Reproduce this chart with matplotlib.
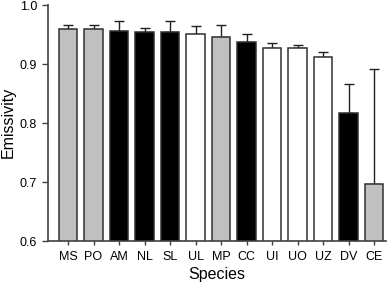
import numpy as np
import matplotlib.pyplot as plt

plt.rcParams['font.family'] = ['Liberation Sans', 'DejaVu Sans']

species = ['MS', 'PO', 'AM', 'NL', 'SL', 'UL', 'MP', 'CC', 'UI', 'UO', 'UZ', 'DV', 'CE']
emissivity = [0.959, 0.959, 0.956, 0.954, 0.954, 0.951, 0.946, 0.938, 0.928, 0.928, 0.912, 0.817, 0.697]
err_upper = [0.008, 0.008, 0.017, 0.008, 0.019, 0.014, 0.020, 0.013, 0.008, 0.004, 0.008, 0.049, 0.194]
groups = ['g', 'g', 'k', 'k', 'k', 'w', 'g', 'k', 'w', 'w', 'w', 'k', 'g']

fill = {'g': '#c0c0c0', 'k': '#000000', 'w': '#ffffff'}

fig = plt.figure(figsize=(3.88, 2.83), dpi=100)
ax = fig.add_axes([0.124, 0.148, 0.871, 0.834])

x = np.arange(len(species))
colors = [fill[g] for g in groups]
ax.bar(x, emissivity, width=0.73, color=colors, edgecolor='#303030', linewidth=1.1, zorder=2)
ax.errorbar(x, emissivity, yerr=[np.zeros(len(x)), err_upper], fmt='none',
            ecolor='#202020', elinewidth=1.0, capsize=3.5, capthick=1.0, zorder=1)

ax.set_ylim(0.6, 1.0)
ax.set_xlim(-0.78, 12.47)
ax.set_yticks([0.6, 0.7, 0.8, 0.9, 1.0])
ax.set_yticklabels(['0.6', '0.7', '0.8', '0.9', '1.0'])
ax.set_xticks(x)
ax.set_xticklabels(species)

for s in ['top', 'right']:
    ax.spines[s].set_visible(False)
for s in ['left', 'bottom']:
    ax.spines[s].set_color('#404040')
    ax.spines[s].set_linewidth(1.2)
ax.tick_params(axis='both', colors='#404040', labelcolor='black', labelsize=9, width=1.0)
ax.tick_params(axis='y', length=4, pad=4)
ax.tick_params(axis='x', length=3, pad=4)

# y label placed in figure coords so it isn't clipped at the left edge
fig.text(8.5 / 388, 0.566, 'Emissivity', rotation=90, ha='center', va='center', fontsize=11.5)
ax.set_xlabel('Species', fontsize=11.5, labelpad=3)

fig.savefig('out.png', dpi=100)
